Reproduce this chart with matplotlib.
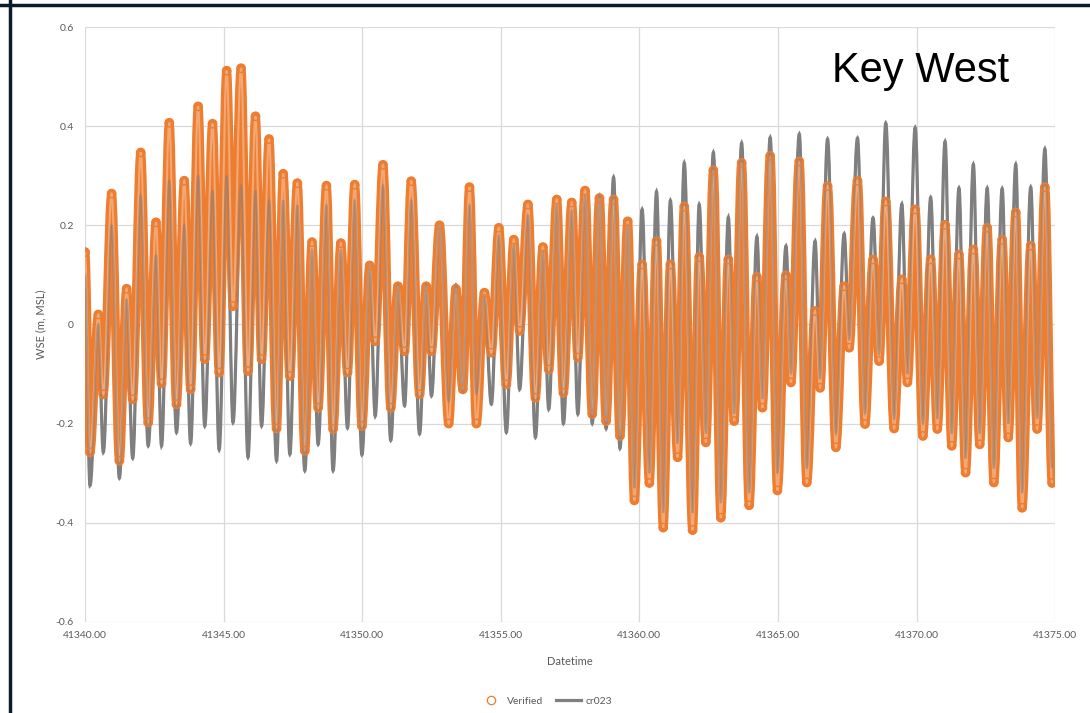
import matplotlib.pyplot as plt
from matplotlib.path import Path
from matplotlib.patches import PathPatch
from matplotlib.lines import Line2D

plt.rcParams['font.family'] = ['Lato', 'DejaVu Sans']

# Times of high and low water (Excel serial dates)
high_time = [41340.00, 41340.48, 41340.96, 41341.50, 41342.01, 41342.56, 41343.04, 41343.58,
             41344.08, 41344.60, 41345.11, 41345.63, 41346.15, 41346.64, 41347.15, 41347.66,
             41348.19, 41348.71, 41349.23, 41349.73, 41350.27, 41350.75, 41351.29, 41351.77,
             41352.31, 41352.79, 41353.38, 41353.87, 41354.41, 41354.93, 41355.47, 41355.98,
             41356.52, 41357.02, 41357.56, 41358.04, 41358.56, 41359.07, 41359.58, 41360.10,
             41360.62, 41361.12, 41361.62, 41362.16, 41362.67, 41363.21, 41363.69, 41364.24,
             41364.72, 41365.29, 41365.77, 41366.34, 41366.79, 41367.39, 41367.87, 41368.43,
             41368.89, 41369.47, 41369.95, 41370.51, 41371.03, 41371.53, 41372.05, 41372.55,
             41373.09, 41373.58, 41374.12, 41374.63]
low_time = [41340.18, 41340.66, 41341.24, 41341.72, 41342.28, 41342.76, 41343.30, 41343.81,
            41344.32, 41344.84, 41345.34, 41345.88, 41346.37, 41346.91, 41347.39, 41347.93,
            41348.41, 41348.95, 41349.47, 41349.99, 41350.47, 41351.03, 41351.53, 41352.07,
            41352.50, 41353.12, 41353.63, 41354.12, 41354.66, 41355.20, 41355.68, 41356.25,
            41356.73, 41357.26, 41357.78, 41358.30, 41358.80, 41359.30, 41359.82, 41360.36,
            41360.86, 41361.38, 41361.92, 41362.40, 41362.94, 41363.42, 41363.96, 41364.44,
            41364.98, 41365.47, 41366.04, 41366.52, 41367.09, 41367.57, 41368.14, 41368.65,
            41369.19, 41369.67, 41370.23, 41370.75, 41371.27, 41371.77, 41372.28, 41372.79,
            41373.31, 41373.81, 41374.35, 41374.89]

# Observed water level (m, MSL)
verified_high = [0.146, 0.02, 0.264, 0.072, 0.347, 0.206, 0.407, 0.29, 0.44, 0.405, 0.512, 0.517,
                 0.42, 0.374, 0.304, 0.285, 0.166, 0.28, 0.164, 0.282, 0.119, 0.322, 0.077, 0.289,
                 0.077, 0.2, 0.072, 0.277, 0.064, 0.195, 0.171, 0.242, 0.156, 0.252, 0.246, 0.27,
                 0.255, 0.252, 0.208, 0.121, 0.168, 0.121, 0.238, 0.136, 0.311, 0.131, 0.326, 0.096,
                 0.34, 0.099, 0.329, 0.027, 0.279, 0.077, 0.29, 0.131, 0.248, 0.091, 0.232, 0.131,
                 0.201, 0.141, 0.151, 0.195, 0.171, 0.226, 0.159, 0.277]
verified_low = [-0.258, -0.141, -0.275, -0.151, -0.198, -0.119, -0.161, -0.131, -0.07, -0.097,
                0.037, -0.094, -0.07, -0.21, -0.104, -0.255, -0.168, -0.211, -0.097, -0.205,
                -0.034, -0.168, -0.054, -0.141, -0.054, -0.2, -0.131, -0.2, -0.057, -0.121,
                -0.013, -0.148, -0.091, -0.138, -0.067, -0.181, -0.195, -0.225, -0.355, -0.32,
                -0.41, -0.268, -0.415, -0.238, -0.39, -0.195, -0.365, -0.168, -0.335, -0.117,
                -0.319, -0.128, -0.248, -0.047, -0.201, -0.074, -0.21, -0.117, -0.225, -0.211,
                -0.245, -0.299, -0.242, -0.319, -0.228, -0.37, -0.211, -0.32]

# Model run cr023 (m, MSL)
cr023_high = [0.10, 0.0, 0.2, 0.05, 0.26, 0.14, 0.29, 0.2, 0.3, 0.27, 0.3, 0.28,
              0.27, 0.25, 0.25, 0.24, 0.15, 0.24, 0.15, 0.25, 0.12, 0.28, 0.08, 0.25,
              0.08, 0.2, 0.08, 0.24, 0.06, 0.18, 0.16, 0.22, 0.15, 0.24, 0.23, 0.26,
              0.26, 0.297, 0.2, 0.232, 0.268, 0.25, 0.326, 0.242, 0.347, 0.216, 0.366, 0.177,
              0.377, 0.158, 0.384, 0.168, 0.374, 0.183, 0.376, 0.215, 0.406, 0.243, 0.397, 0.256,
              0.369, 0.275, 0.323, 0.275, 0.274, 0.323, 0.277, 0.354]
cr023_low = [-0.325, -0.258, -0.31, -0.27, -0.245, -0.245, -0.218, -0.24, -0.205, -0.253,
             -0.198, -0.268, -0.205, -0.275, -0.262, -0.295, -0.242, -0.295, -0.209, -0.263,
             -0.185, -0.234, -0.164, -0.221, -0.144, -0.155, -0.136, -0.14, -0.161, -0.218,
             -0.131, -0.228, -0.171, -0.2, -0.181, -0.2, -0.21, -0.25, -0.33, -0.3,
             -0.38, -0.24, -0.38, -0.22, -0.36, -0.18, -0.34, -0.15, -0.3, -0.1,
             -0.29, -0.11, -0.22, -0.03, -0.18, -0.06, -0.19, -0.1, -0.2, -0.19,
             -0.22, -0.27, -0.22, -0.29, -0.2, -0.34, -0.19, -0.29]

orange = '#ED7D31'
grey = '#7F7F7F'


def tide_path(t_hi, v_hi, t_lo, v_lo):
    # smooth curve through the extremes, flat at each high and low
    pts = sorted(zip(t_hi + t_lo, v_hi + v_lo))
    verts = [pts[0]]
    codes = [Path.MOVETO]
    for (t0, v0), (t1, v1) in zip(pts[:-1], pts[1:]):
        d = (t1 - t0) * 0.36
        verts += [(t0 + d, v0), (t1 - d, v1), (t1, v1)]
        codes += [Path.CURVE4] * 3
    return Path(verts, codes)


fig = plt.figure(figsize=(10.9, 7.13), dpi=100)
ax = fig.add_axes([0.078, 0.128, 0.89, 0.834])

model_path = tide_path(high_time, cr023_high, low_time, cr023_low)
obs_path = tide_path(high_time, verified_high, low_time, verified_low)

ax.add_patch(PathPatch(model_path, fill=False, edgecolor=grey, lw=2.3, zorder=2))
ax.add_patch(PathPatch(obs_path, fill=False, edgecolor=orange, lw=6.3, capstyle='round',
                       joinstyle='round', zorder=3))
ax.add_patch(PathPatch(obs_path, fill=False, edgecolor='#F3A874', lw=1.5, zorder=3.5))
ax.add_patch(PathPatch(model_path, fill=False, edgecolor=grey, lw=1.6, alpha=0.5, zorder=4))
ax.scatter(high_time + low_time, verified_high + verified_low, s=36, facecolors='none',
           edgecolors=orange, linewidths=1.0, zorder=5)

ax.set_xlim(41340, 41375)
ax.set_ylim(-0.6, 0.6)
xt = list(range(41340, 41376, 5))
ax.set_xticks(xt)
ax.set_xticklabels([f'{x:.2f}' for x in xt])
yt = [-0.6, -0.4, -0.2, 0, 0.2, 0.4, 0.6]
ax.set_yticks(yt)
ax.set_yticklabels(['-0.6', '-0.4', '-0.2', '0', '0.2', '0.4', '0.6'])
ax.tick_params(length=0, labelsize=7.5, labelcolor='#595959')
ax.tick_params(axis='y', pad=8)
ax.tick_params(axis='x', pad=7)
for s in ax.spines.values():
    s.set_visible(False)
ax.grid(True, color='#D9D9D9', lw=0.9)
ax.set_axisbelow(True)

ax.set_xlabel('Datetime', fontsize=8, color='#595959', labelpad=11)
ax.set_ylabel('WSE (m, MSL)', fontsize=8, color='#595959', labelpad=7)

handles = [Line2D([], [], ls='none', marker='o', mfc='none', mec=orange, ms=6, mew=0.9),
           Line2D([], [], color=grey, lw=2.3)]
fig.legend(handles, ['Verified', 'cr023'], loc='center', bbox_to_anchor=(0.5, 1 - 701 / 713),
           ncol=2, frameon=False, fontsize=7.5, labelcolor='#595959', handlelength=2.4,
           handletextpad=0.4, columnspacing=1.2)

fig.text(921 / 1090, 1 - 82 / 713, 'Key West', fontsize=30, family='Liberation Sans',
         ha='center', va='baseline', color='black')

# dark frame along the top and left edges
fig.add_artist(Line2D([0, 1], [1 - 5 / 713] * 2, transform=fig.transFigure, color='#0E1A2B', lw=2.5))
fig.add_artist(Line2D([10 / 1090] * 2, [0, 1], transform=fig.transFigure, color='#0E1A2B', lw=2.5))

fig.savefig('out.png', dpi=100)
